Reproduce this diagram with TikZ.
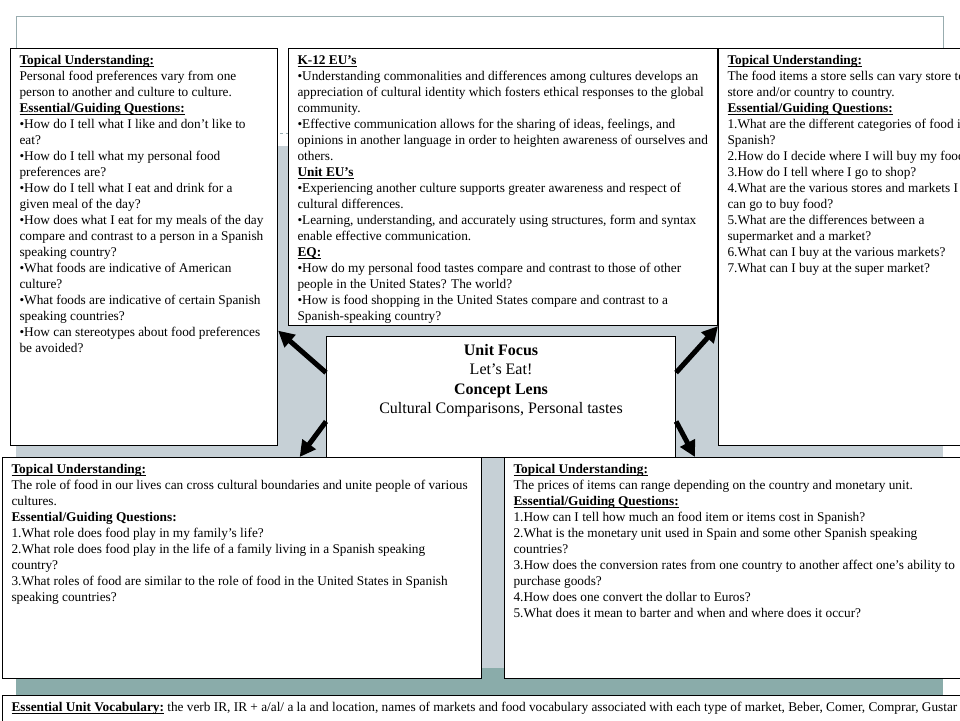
\documentclass[tikz,border=0pt]{standalone}
\usepackage{fontspec}
\setmainfont{Liberation Serif}
\usepackage{xcolor}
\usetikzlibrary{arrows.meta,positioning,calc}

\definecolor{frame}{RGB}{152,172,175}
\definecolor{panel}{RGB}{198,208,214}
\definecolor{band}{RGB}{138,172,170}

\newsavebox{\headbox}
\newcommand{\uhead}[1]{\leavevmode\sbox{\headbox}{\textbf{#1}}\rlap{\rule[-1.8pt]{\wd\headbox}{0.9pt}}\usebox{\headbox}}
\newcommand{\boxtext}[3]{\parbox[c][\dimexpr#2-10pt\relax][t]{\dimexpr#1-18pt\relax}{\raggedright\strut#3}}

\begin{document}
\begin{tikzpicture}[x=1pt,y=-1pt,
  topic box/.style={draw=black,line width=1.1pt,fill=white,anchor=north west,
    inner xsep=9pt,inner ysep=5pt,font=\fontsize{13.3}{16}\selectfont},
  focus box/.style={topic box,font=\fontsize{16}{19.5}\selectfont},
  link/.style={-{Triangle[length=16pt,width=16pt]},line width=5pt,draw=black}
]
\useasboundingbox[fill=white] (0,0) rectangle (960,720);

% slide backdrop
\draw[draw=frame,line width=1pt] (16,16) rectangle (943,146);
\draw[draw=frame,dashed,line width=0.6pt] (16,133) -- (943,133);
\fill[panel] (16,146) rectangle (943,668);
\fill[band] (16,668) rectangle (943,695);

% upper row
\node[topic box] (prefs) at (10,48) {\boxtext{267pt}{397pt}{%
  \uhead{Topical Understanding:}\\
  Personal food preferences vary from one\\
  person to another and culture to culture.\\
  \uhead{Essential/Guiding Questions:}\\
  •How do I tell what I like and don’t like to\\
  eat?\\
  •How do I tell what my personal food\\
  preferences are?\\
  •How do I tell what I eat and drink for a\\
  given meal of the day?\\
  •How does what I eat for my meals of the day\\
  compare and contrast to a person in a Spanish\\
  speaking country?\\
  •What foods are indicative of American\\
  culture?\\
  •What foods are indicative of certain Spanish\\
  speaking countries?\\
  •How can stereotypes about food preferences\\
  be avoided?}};
\node[topic box] (eus) at (288,48) {\boxtext{429pt}{277pt}{%
  \uhead{K-12 EU’s}\\
  •Understanding commonalities and differences among cultures develops an\\
  appreciation of cultural identity which fosters ethical responses to the global\\
  community.\\
  •Effective communication allows for the sharing of ideas, feelings, and\\
  opinions in another language in order to heighten awareness of ourselves and\\
  others.\\
  \uhead{Unit EU’s}\\
  •Experiencing another culture supports greater awareness and respect of\\
  cultural differences.\\
  •Learning, understanding, and accurately using structures, form and syntax\\
  enable effective communication.\\
  \uhead{EQ:}\\
  •How do my personal food tastes compare and contrast to those of other\\
  people in the United States? The world?\\
  •How is food shopping in the United States compare and contrast to a\\
  Spanish-speaking country?}};
\node[topic box] (stores) at (718,48) {\boxtext{290pt}{397pt}{%
  \uhead{Topical Understanding:}\\
  The food items a store sells can vary store to\\
  store and/or country to country.\\
  \uhead{Essential/Guiding Questions:}\\
  1.What are the different categories of food in\\
  Spanish?\\
  2.How do I decide where I will buy my food?\\
  3.How do I tell where I go to shop?\\
  4.What are the various stores and markets I\\
  can go to buy food?\\
  5.What are the differences between a\\
  supermarket and a market?\\
  6.What can I buy at the various markets?\\
  7.What can I buy at the super market?}};

% lower row
\node[topic box] (roles) at (2,457) {\boxtext{479pt}{221pt}{%
  \uhead{Topical Understanding:}\\
  The role of food in our lives can cross cultural boundaries and unite people of various\\
  cultures.\\
  \textbf{Essential/Guiding Questions:}\\
  1.What role does food play in my family’s life?\\
  2.What role does food play in the life of a family living in a Spanish speaking\\
  country?\\
  3.What roles of food are similar to the role of food in the United States in Spanish\\
  speaking countries?}};
\node[topic box] (prices) at (504,457) {\boxtext{500pt}{221pt}{%
  \uhead{Topical Understanding:}\\
  The prices of items can range depending on the country and monetary unit.\\
  \uhead{Essential/Guiding Questions:}\\
  1.How can I tell how much an food item or items cost in Spanish?\\
  2.What is the monetary unit used in Spain and some other Spanish speaking\\
  countries?\\
  3.How does the conversion rates from one country to another affect one’s ability to\\
  purchase goods?\\
  4.How does one convert the dollar to Euros?\\
  5.What does it mean to barter and when and where does it occur?}};
\node[topic box] (vocab) at (2,695) {\boxtext{1200pt}{40pt}{%
  \uhead{Essential Unit Vocabulary:} the verb IR, IR + a/al/ a la and location, names of markets and food vocabulary associated with each type of market, Beber, Comer, Comprar, Gustar}};

% centre
\node[focus box] (focus) at (326,336) {\parbox[c][111pt][t]{331pt}{\centering\strut
  \textbf{Unit Focus}\\
  Let’s Eat!\\
  \textbf{Concept Lens}\\
  Cultural Comparisons, Personal tastes}};

\draw[link] ($(focus.north west)!0.3!(focus.south west)$) -- ($(prefs.north east)!0.71!(prefs.south east)$);
\draw[link] ($(focus.north east)!0.3!(focus.south east)$) -- (eus.south east);
\draw[link] ($(focus.north west)!0.7!(focus.south west)$) -- ($(roles.north west)!0.62!(roles.north east)$);
\draw[link] ($(focus.north east)!0.7!(focus.south east)$) -- ($(prices.north west)+(191,0)$);

\end{tikzpicture}
\end{document}
